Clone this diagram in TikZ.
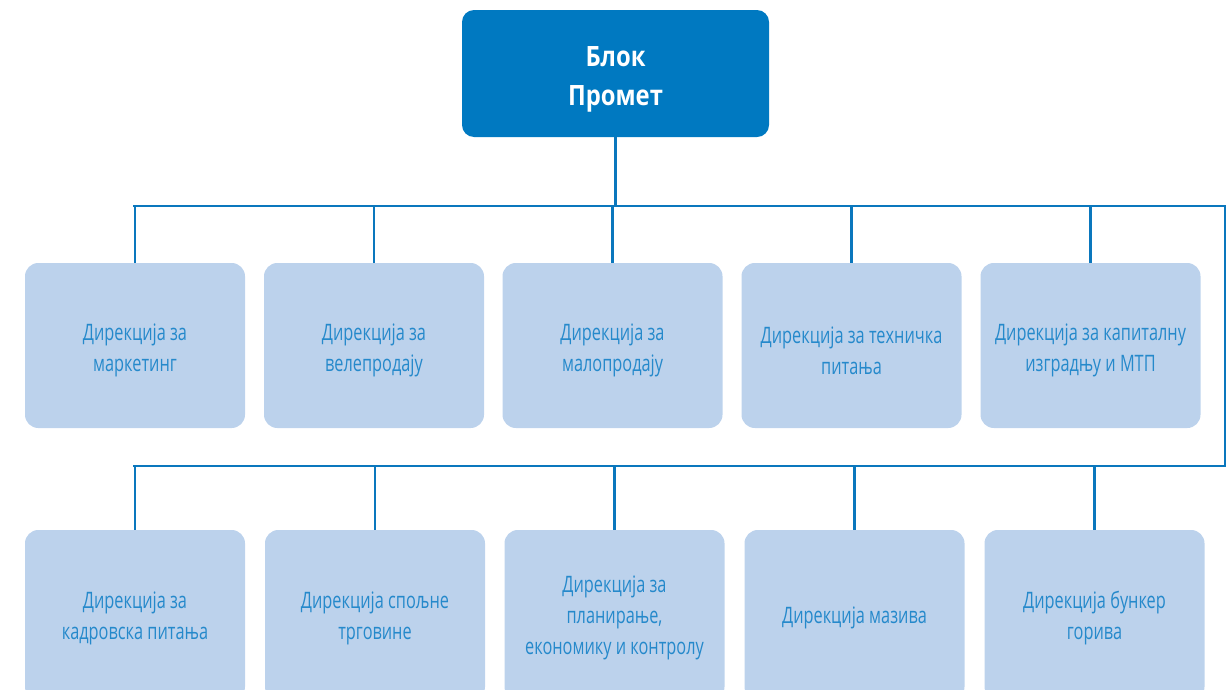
\documentclass[tikz,border=0pt]{standalone}
\usepackage{fontspec}
\setmainfont[FakeStretch=0.72]{Open Sans}
\newfontfamily\titlefont[FakeStretch=0.85]{Open Sans}
\definecolor{topblue}{HTML}{0079C1}
\definecolor{lightbox}{HTML}{BCD2EC}
\definecolor{linecol}{HTML}{0A77BD}
\definecolor{txtblue}{HTML}{2589CB}
\begin{document}
\begin{tikzpicture}[x=0.75pt,y=-0.75pt,
  topbox/.style={fill=topblue, rounded corners=9pt, minimum width=230.25pt, minimum height=95.25pt, inner sep=0pt},
  toptext/.style={text=white, align=center, font=\titlefont\bfseries\fontsize{21}{29.25}\selectfont, inner sep=0pt},
  dirbox/.style={fill=lightbox, rounded corners=10pt, minimum width=165pt, minimum height=123.75pt, inner sep=0pt},
  dirbox2/.style={dirbox, minimum height=127.5pt},
  dirtext/.style={text=txtblue, align=center, font=\fontsize{17}{23.25}\selectfont, inner sep=0pt},
  conn/.style={draw=linecol, line width=1.8pt}
]
\useasboundingbox (0,0) rectangle (1230,689);
\clip (0,0) rectangle (1230,689);

\node[topbox] (top) at (615.5,73.5) {};
\node[toptext] (topt) at ([yshift=-4.5pt]top.center) {Блок\\Промет};

\node[dirbox] (r1a) at (135,345.5) {};
\node[dirbox] (r1b) at (374,345.5) {};
\node[dirbox] (r1c) at (612.5,345.5) {};
\node[dirbox] (r1d) at (851.5,345.5) {};
\node[dirbox] (r1e) at (1090.5,345.5) {};
\node[dirtext] (t1a) at ([yshift=-3.75pt]r1a.center) {Дирекција за\\маркетинг};
\node[dirtext] (t1b) at ([yshift=-3.75pt]r1b.center) {Дирекција за\\велепродају};
\node[dirtext] (t1c) at ([yshift=-3.75pt]r1c.center) {Дирекција за\\малопродају};
\node[dirtext] (t1d) at ([yshift=-3.75pt]r1d.center) {Дирекција за техничка\\питања};
\node[dirtext] (t1e) at ([yshift=-3.75pt]r1e.center) {Дирекција за капиталну\\изградњу и МТП};

\node[dirbox2] (r2a) at (135,615) {};
\node[dirbox2] (r2b) at (375,615) {};
\node[dirbox2] (r2c) at (614.5,615) {};
\node[dirbox2] (r2d) at (854.5,615) {};
\node[dirbox2] (r2e) at (1094.5,615) {};
\node[dirtext] (t2a) at ([yshift=-2.25pt]r2a.center) {Дирекција за\\кадровска питања};
\node[dirtext] (t2b) at ([yshift=-2.25pt]r2b.center) {Дирекција спољне\\трговине};
\node[dirtext] (t2c) at ([yshift=-2.25pt]r2c.center) {Дирекција за\\планирање,\\економику и контролу};
\node[dirtext] (t2d) at ([yshift=-2.25pt]r2d.center) {Дирекција мазива};
\node[dirtext] (t2e) at ([yshift=-2.25pt]r2e.center) {Дирекција бункер\\горива};

\coordinate (b1L) at (134,206);
\coordinate (b1R) at (1225,206);
\coordinate (b2R) at (1225,466);
\coordinate (b2L) at (134,466);

\draw[conn] (top.south) -- (top.south |- b1L);
\draw[conn, line cap=rect] (b1L) -- (b1R) -- (b2R) -- (b2L);
\foreach \n in {r1a,r1b,r1c,r1d,r1e}{
  \draw[conn] (\n.north) -- (\n.north |- b1L);
}
\foreach \n in {r2a,r2b,r2c,r2d,r2e}{
  \draw[conn] (\n.north) -- (\n.north |- b2L);
}
\end{tikzpicture}
\end{document}
